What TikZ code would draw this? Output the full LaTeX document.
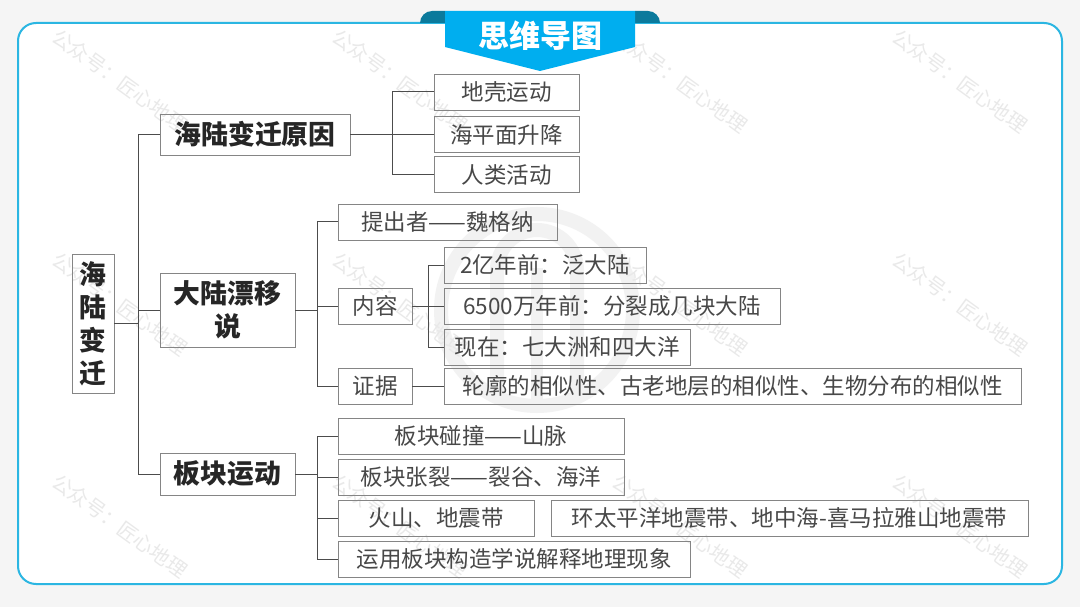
\documentclass[tikz,border=0pt]{standalone}
\usepackage{fontspec}
\setmainfont{Noto Sans CJK SC}
\definecolor{pagegray}{HTML}{F5F5F5}
\definecolor{framecyan}{HTML}{2BB6E2}
\definecolor{bannerblue}{HTML}{00AEEF}
\definecolor{bannerdark}{HTML}{0B7A9C}
\definecolor{markgray}{HTML}{F2F2F2}
\definecolor{wmarkgray}{HTML}{E9E9E9}
\definecolor{boxgray}{HTML}{858585}
\definecolor{inkgray}{HTML}{484848}
\begin{document}
\begin{tikzpicture}[x=1pt,y=-1pt,line width=1pt,
  mapbox/.style={draw=boxgray,line width=.9pt,inner sep=0pt,anchor=center,align=center,text=inkgray,font=\fontsize{22.5}{26}\selectfont},
  headbox/.style={mapbox,text=black!85,font=\fontsize{26.8}{33}\selectfont\bfseries},
  link/.style={draw=black!70,line width=1pt},
  wmark/.style={anchor=center,inner sep=0pt,rotate=-36,text=wmarkgray,font=\fontsize{20}{22}\selectfont}]
\path[use as bounding box] (0,0) rectangle (1080,607);
\fill[pagegray] (0,0) rectangle (1080,607);
\draw[framecyan,fill=white,line width=2pt,rounded corners=18pt] (18,23) rectangle (1062,584);
\draw[markgray,line width=14pt] (537,310) circle (96);
\draw[markgray,line width=14pt] (497,400) -- (497,270) arc (180:360:40) -- (577,400);
\draw[markgray,line width=12pt] (537,268) -- (537,405);
\node[wmark] (markA) at (120,81) {公众号：匠心地理};
\node[wmark] (markB) at (400,81) {公众号：匠心地理};
\node[wmark] (markC) at (680,81) {公众号：匠心地理};
\node[wmark] (markD) at (960,81) {公众号：匠心地理};
\node[wmark] (markE) at (120,304) {公众号：匠心地理};
\node[wmark] (markF) at (400,304) {公众号：匠心地理};
\node[wmark] (markG) at (680,304) {公众号：匠心地理};
\node[wmark] (markH) at (960,304) {公众号：匠心地理};
\node[wmark] (markI) at (120,526) {公众号：匠心地理};
\node[wmark] (markJ) at (400,526) {公众号：匠心地理};
\node[wmark] (markK) at (680,526) {公众号：匠心地理};
\node[wmark] (markL) at (960,526) {公众号：匠心地理};
\fill[bannerdark] (420,23) arc (180:270:12) -- (445,11) -- (445,23) -- cycle;
\fill[bannerdark] (660,23) arc (0:-90:12) -- (635,11) -- (635,23) -- cycle;
\fill[bannerblue] (445,11) -- (635,11) -- (635,47) -- (540,71) -- (445,47) -- cycle;
\node[anchor=center,inner sep=0pt,text=white,font=\fontsize{31}{36}\selectfont\bfseries] (title) at (540,36) {思维导图};
\node[headbox,minimum width=42pt,minimum height=139pt] (root) at (93,323.5) {海\\陆\\变\\迁};
\node[headbox,minimum width=190pt,minimum height=41pt] (cause) at (255,134.5) {海陆变迁原因};
\node[headbox,minimum width=135pt,minimum height=74pt] (drift) at (227.5,310) {大陆漂移\\说};
\node[headbox,minimum width=135pt,minimum height=42pt] (plate) at (227.5,474) {板块运动};
\node[mapbox,minimum width=145pt,minimum height=36pt] (crust) at (506.5,92) {地壳运动};
\node[mapbox,minimum width=145pt,minimum height=36pt] (sea) at (506.5,134.5) {海平面升降};
\node[mapbox,minimum width=145pt,minimum height=36pt] (human) at (506.5,174.5) {人类活动};
\node[mapbox,minimum width=219pt,minimum height=36pt] (author) at (447.5,222) {提出者——魏格纳};
\node[mapbox,minimum width=74pt,minimum height=36pt] (content) at (375,306) {内容};
\node[mapbox,minimum width=74pt,minimum height=36pt] (proof) at (375,386) {证据};
\node[mapbox,minimum width=202pt,minimum height=36pt] (pangaea) at (545,265) {2亿年前：泛大陆};
\node[mapbox,minimum width=336pt,minimum height=36pt] (split) at (612,306) {6500万年前：分裂成几块大陆};
\node[mapbox,minimum width=246pt,minimum height=36pt] (today) at (567,347) {现在：七大洲和四大洋};
\node[mapbox,minimum width=577pt,minimum height=36pt] (alike) at (732.5,386) {轮廓的相似性、古老地层的相似性、生物分布的相似性};
\node[mapbox,minimum width=286pt,minimum height=36pt] (crash) at (481,436) {板块碰撞——山脉};
\node[mapbox,minimum width=286pt,minimum height=36pt] (rift) at (481,477) {板块张裂——裂谷、海洋};
\node[mapbox,minimum width=196pt,minimum height=36pt] (belt) at (436,518) {火山、地震带};
\node[mapbox,minimum width=477pt,minimum height=36pt] (zones) at (789.5,518) {环太平洋地震带、地中海-喜马拉雅山地震带};
\node[mapbox,minimum width=352pt,minimum height=36pt] (explain) at (514,559) {运用板块构造学说解释地理现象};
\coordinate (forkA) at (138,323.5);
\coordinate (forkB) at (392,134.5);
\coordinate (forkC) at (317,310);
\coordinate (forkD) at (428,306);
\coordinate (forkE) at (317,474);
\draw[link] (root) -- (forkA);
\draw[link] (cause.west) -| (forkA);
\draw[link] (plate.west) -| (forkA);
\draw[link] (forkA |- drift.west) -- (drift.west);
\draw[link] (cause.east) -- (forkB);
\draw[link] (crust.west) -| (forkB);
\draw[link] (human.west) -| (forkB);
\draw[link] (forkB) -- (sea.west);
\draw[link] (drift.east) -- (forkC);
\draw[link] (author.west) -| (forkC);
\draw[link] (proof.west) -| (forkC);
\draw[link] (forkC |- content.west) -- (content.west);
\draw[link] (content.east) -- (forkD);
\draw[link] (pangaea.west) -| (forkD);
\draw[link] (today.west) -| (forkD);
\draw[link] (forkD) -- (split.west);
\draw[link] (proof.east) -- (alike.west);
\draw[link] (plate.east) -- (forkE);
\draw[link] (crash.west) -| (forkE);
\draw[link] (explain.west) -| (forkE);
\draw[link] (forkE |- rift.west) -- (rift.west);
\draw[link] (forkE |- belt.west) -- (belt.west);
\end{tikzpicture}
\end{document}
